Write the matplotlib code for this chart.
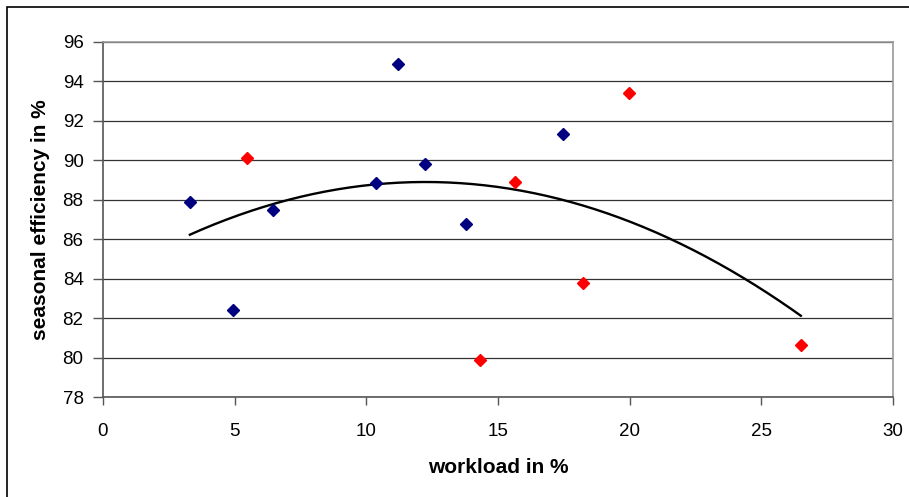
import numpy as np
import matplotlib
matplotlib.use("Agg")
import matplotlib.pyplot as plt
from matplotlib.patches import Rectangle

plt.rcParams['font.family'] = ['Liberation Sans', 'DejaVu Sans']

# data
blue_x = [3.3, 4.95, 6.46, 10.36, 11.22, 12.24, 13.80, 17.46]
blue_y = [87.87, 82.41, 87.47, 88.83, 94.87, 89.80, 86.77, 91.35]
red_x = [5.47, 14.33, 15.65, 18.22, 19.98, 26.49]
red_y = [90.12, 79.87, 88.89, 83.76, 93.43, 80.62]
# polynomial (order 2) trendline: a*x^2 + b*x + c
trend_coef = [-0.03338, 0.8176, 83.895]
trend_range = [3.3, 26.5]

x_ticks = [0, 5, 10, 15, 20, 25, 30]
y_ticks = [78, 80, 82, 84, 86, 88, 90, 92, 94, 96]
x_label = "workload in %"
y_label = "seasonal efficiency in %"

fig = plt.figure(figsize=(9.09, 4.97), dpi=100)
fig.patches.append(Rectangle((7/909, -0.1), 1.2, (497-7)/497 + 0.1,
                             transform=fig.transFigure, fill=False,
                             edgecolor='black', linewidth=1.2))
ax = fig.add_axes([103/909, 100/497, 790/909, 355/497])

ax.set_xlim(0, 30)
ax.set_ylim(78, 96)
ax.set_xticks(x_ticks)
ax.set_yticks(y_ticks)
ax.grid(axis='y', color='#333333', linewidth=0.9)
ax.set_axisbelow(True)

for s in ['top', 'right']:
    ax.spines[s].set_color('#999999')
    ax.spines[s].set_linewidth(1.2)
for s in ['left', 'bottom']:
    ax.spines[s].set_color('#555555')
    ax.spines[s].set_linewidth(1.2)

ax.tick_params(axis='y', length=7, width=1, color='#555555', labelsize=13.5, pad=7)
ax.tick_params(axis='x', length=6, width=1, color='#555555', labelsize=13.5, pad=13)

tx = np.linspace(trend_range[0], trend_range[1], 200)
ax.plot(tx, np.polyval(trend_coef, tx), color='black', linewidth=1.7, zorder=3)

ax.plot(blue_x, blue_y, linestyle='none', marker='D', markersize=6.5,
        color='#000080', zorder=4, clip_on=False)
ax.plot(red_x, red_y, linestyle='none', marker='D', markersize=6.5,
        color='#FF0000', zorder=4, clip_on=False)

ax.set_xlabel(x_label, fontsize=15, fontweight='bold', labelpad=13)
ax.set_ylabel(y_label, fontsize=15, fontweight='bold', labelpad=9)

fig.savefig('out.png', dpi=100)
